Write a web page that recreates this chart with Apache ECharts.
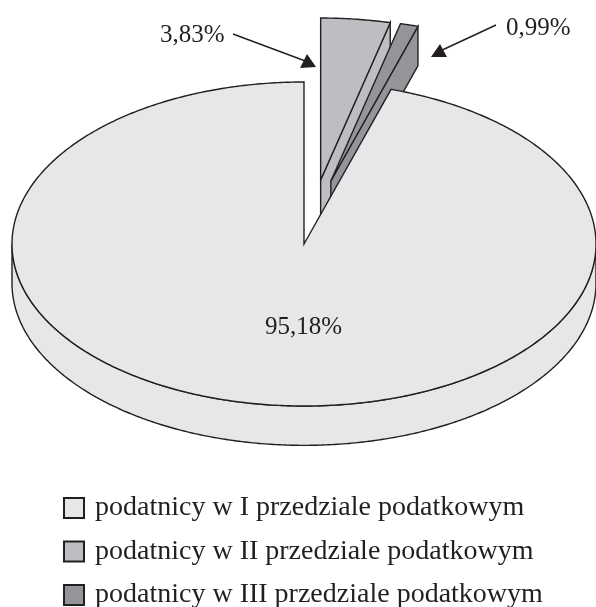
<!DOCTYPE html>
<html>
<head>
<meta charset="utf-8">
<title>Podatnicy</title>
<script src="https://cdn.jsdelivr.net/npm/echarts@6/dist/echarts.min.js"></script>
<style>
html, body {margin: 0; padding: 0; background: #fff;}
#main {width: 596px; height: 607px;}
</style>
</head>
<body>
<div id="main"></div>
<script>
// kolejnosc jak na wykresie, od godziny 12 zgodnie z zegarem
var categories = [
    'podatnicy w II przedziale podatkowym',
    'podatnicy w III przedziale podatkowym',
    'podatnicy w I przedziale podatkowym'
];
var shares = [3.83, 0.99, 95.18];
var share_labels = ['3,83%', '0,99%', '95,18%'];
var legend_order = [categories[2], categories[0], categories[1]];

var colors = ['#bcbec1', '#939598', '#e6e7e9'];
var line_color = '#231f20';
var font = '"Liberation Serif", serif';

// wysuniecie wycinkow w jednostkach osi (promien = 1)
var explode = [[0.057, 0.395], [0.092, 0.389], [0, 0]];
var depth = 0.243;

var deg = function(percent){
    return percent * 3.6 * Math.PI / 180;
};

var arc = function(from, to, dx, dy){
    var points = [];
    var steps = Math.max(2, Math.ceil((to - from) / 0.01));
    for (var i = 0; i <= steps; i++) {
        var t = from + (to - from) * i / steps;
        points.push([Math.sin(t) + dx, Math.cos(t) + dy]);
    }
    return points;
};

var make_series = function(index){
    var start = 0;
    for (var i = 0; i < index; i++) {
        start += shares[i];
    }
    return {
        name: categories[index],
        type: 'custom',
        coordinateSystem: 'cartesian2d',
        z: index + 2,
        silent: true,
        itemStyle: {color: colors[index], borderColor: line_color, borderWidth: 1.5},
        encode: {x: 0, y: 1},
        data: [[shares[index], 0]],
        renderItem: function(params, api){
            var from = deg(start);
            var to = deg(start + api.value(0));
            var dx = explode[index][0];
            var dy = explode[index][1];
            var style = {fill: colors[index], stroke: line_color, lineWidth: 1.4};
            var children = [];
            var poly = function(points){
                children.push({
                    type: 'polygon',
                    shape: {points: points.map(function(p){ return api.coord(p); })},
                    style: style
                });
            };

            if (index === 2) {
                // bok duzego wycinka, tylko przednia polowa
                var rim = arc(Math.PI / 2, Math.PI * 1.5, 0, 0);
                var rim_low = arc(Math.PI / 2, Math.PI * 1.5, 0, -depth).reverse();
                poly(rim.concat(rim_low));
            } else {
                // prawa sciana wysunietego wycinka
                var corner = [Math.sin(to) + dx, Math.cos(to) + dy];
                poly([
                    [dx, dy],
                    corner,
                    [corner[0], corner[1] - depth],
                    [dx, dy - depth]
                ]);
            }
            poly([[dx, dy]].concat(arc(from, to, dx, dy)));

            return {type: 'group', children: children};
        }
    };
};

var series = [];
for (var s = 0; s < categories.length; s++) {
    series.push(make_series(s));
}

var arrow = function(line, head){
    return [{
        type: 'line',
        z: 100,
        shape: {x1: line[0], y1: line[1], x2: line[2], y2: line[3]},
        style: {stroke: line_color, lineWidth: 1.4}
    }, {
        type: 'polygon',
        z: 100,
        shape: {points: head},
        style: {fill: line_color}
    }];
};

var label = function(text, x, y){
    return {
        type: 'text',
        z: 100,
        x: x,
        y: y,
        style: {text: text, fill: line_color, font: '25px ' + font, textAlign: 'left', textVerticalAlign: 'middle'}
    };
};

var graphic = [
    label(share_labels[0], 160, 35),
    label(share_labels[1], 506, 28),
    label(share_labels[2], 265, 327)
].concat(
    arrow([233, 34, 308, 62], [[307, 54], [300, 68], [316, 67]]),
    arrow([496, 25, 438, 52], [[440, 44], [447, 57], [431, 57]])
);

var option = {
    animation: false,
    backgroundColor: '#fff',
    grid: {left: 12, right: 0, top: 82, height: 324},
    xAxis: {type: 'value', min: -1, max: 1, show: false},
    yAxis: {type: 'value', min: -1, max: 1, show: false},
    legend: {
        data: legend_order,
        orient: 'vertical',
        left: 63,
        top: 494,
        padding: 0,
        height: 300,
        icon: 'rect',
        itemWidth: 20,
        itemHeight: 20,
        itemGap: 15.5,
        selectedMode: false,
        textStyle: {fontFamily: font, fontSize: 28, color: line_color, padding: [4, 0, 0, 6]}
    },
    graphic: graphic,
    series: series
};

var myChart = echarts.init(document.getElementById('main'));
myChart.setOption(option);
</script>
</body>
</html>
